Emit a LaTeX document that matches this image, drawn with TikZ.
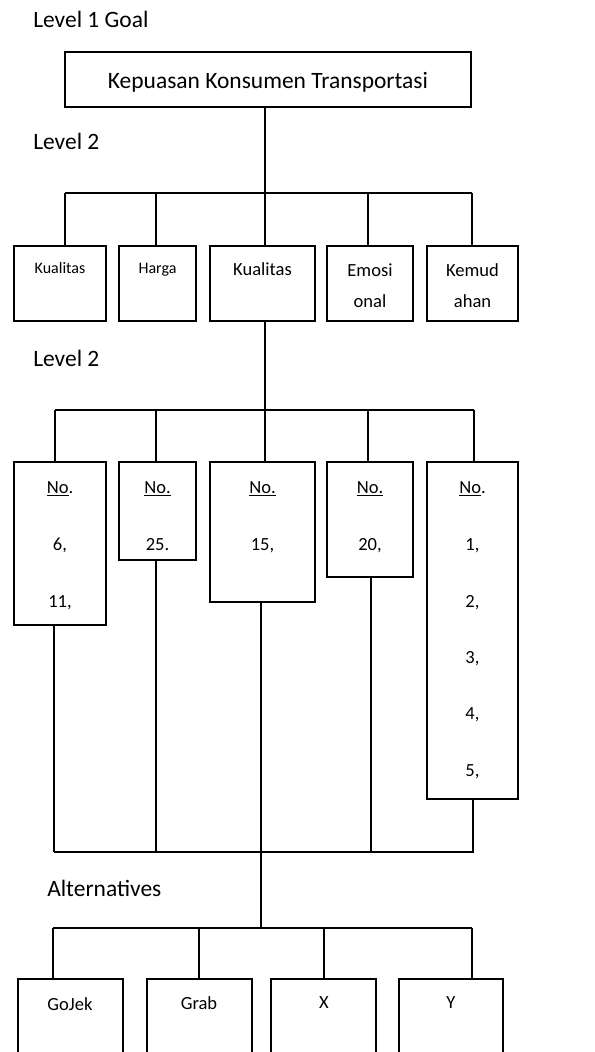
\documentclass[tikz,border=0pt]{standalone}
\usepackage{fontspec}
\setmainfont{Carlito}
\usetikzlibrary{fit}
\begin{document}
\begin{tikzpicture}[x=0.75pt,y=-0.75pt,
  box/.style={draw, line width=1.4pt, inner sep=0pt},
  conn/.style={line width=1.3pt},
  big/.style={font=\fontsize{17.6}{20}\selectfont, inner sep=0pt, anchor=base},
  mid/.style={font=\fontsize{13.9}{16}\selectfont, inner sep=0pt, anchor=base},
  sml/.style={font=\fontsize{12}{14}\selectfont, inner sep=0pt, anchor=base}]
\useasboundingbox (0,0) rectangle (594,1052);

% ---- level labels
\node[big, anchor=base west] (lv1) at (33,28) {Level 1 Goal};
\node[big, anchor=base west] (lv2) at (33,150) {Level 2};
\node[big, anchor=base west] (lv3) at (33,366) {Level 2};
\node[big, anchor=base west] (alt) at (47,896) {Alternatives};

% ---- goal
\node[box, fit={(65,52) (471,107)}] (goal) {};
\node[big] (goalt) at (268,89) {Kepuasan Konsumen Transportasi};

% ---- level 2 boxes
\node[box, fit={(14,246) (106,321)}] (a1) {};
\node[box, fit={(119,246) (196,321)}] (a2) {};
\node[box, fit={(210,246) (315,321)}] (a3) {};
\node[box, fit={(327,246) (413,321)}] (a4) {};
\node[box, fit={(427,246) (518,321)}] (a5) {};
\node[sml] (a1t) at (60,273) {Kualitas};
\node[sml] (a2t) at (157.5,273) {Harga};
\node[mid] (a3t) at (262.5,275) {Kualitas};
\node[mid] (a4t) at (370,276) {Emosi};
\node[mid] (a4u) at (370,307) {onal};
\node[mid] (a5t) at (472.5,276) {Kemud};
\node[mid] (a5u) at (472.5,307) {ahan};

% ---- level 3 boxes
\node[box, fit={(14,462) (106,625)}] (c1) {};
\node[box, fit={(119,462) (196,560)}] (c2) {};
\node[box, fit={(210,462) (315,602)}] (c3) {};
\node[box, fit={(327,462) (413,577)}] (c4) {};
\node[box, fit={(427,462) (518,799)}] (c5) {};
\node[mid] (c1n) at (60,493) {\underline{No}.};
\node[mid] (c1a) at (60,550) {6,};
\node[mid] (c1b) at (60,607) {11,};
\node[mid] (c2n) at (157.5,493) {\underline{No.}};
\node[mid] (c2a) at (157.5,550) {25.};
\node[mid] (c3n) at (262.5,493) {\underline{No.}};
\node[mid] (c3a) at (262.5,550) {15,};
\node[mid] (c4n) at (370,493) {\underline{No.}};
\node[mid] (c4a) at (370,550) {20,};
\node[mid] (c5n) at (472.5,493) {\underline{No}.};
\node[mid] (c5a) at (472.5,550) {1,};
\node[mid] (c5b) at (472.5,607) {2,};
\node[mid] (c5c) at (472.5,663) {3,};
\node[mid] (c5d) at (472.5,719) {4,};
\node[mid] (c5e) at (472.5,776) {5,};

% ---- alternatives (open at the bottom, cut by the page edge)
\node[box, fit={(18,979) (123,1100)}] (g1) {};
\node[box, fit={(147,979) (252,1100)}] (g2) {};
\node[box, fit={(271,979) (376,1100)}] (g3) {};
\node[box, fit={(399,979) (503,1100)}] (g4) {};
\node[mid] (g1t) at (70,1010) {GoJek};
\node[mid] (g2t) at (199,1009) {Grab};
\node[mid] (g3t) at (324,1008) {X};
\node[mid] (g4t) at (451,1008) {Y};

% ---- connectors: goal -> level 2
\coordinate (p1) at (65,193);
\coordinate (p2) at (156,193);
\coordinate (p3) at (265,193);
\coordinate (p4) at (368,193);
\coordinate (p5) at (472,193);
\draw[conn] (goal.south -| p3) -- (p3);
\draw[conn] (p1) -- (p5);
\foreach \i in {1,...,5} {\draw[conn] (p\i) -- (p\i |- a\i.north);}

% ---- level 2 -> level 3
\coordinate (q1) at (55,410);
\coordinate (q2) at (156,410);
\coordinate (q3) at (265,410);
\coordinate (q4) at (368,410);
\coordinate (q5) at (474,410);
\draw[conn] (a3.south -| q3) -- (q3);
\draw[conn] (q1) -- (q5);
\foreach \i in {1,...,5} {\draw[conn] (q\i) -- (q\i |- c\i.north);}

% ---- level 3 -> bus
\coordinate (r1) at (54,852);
\coordinate (r2) at (156,852);
\coordinate (r3) at (261,852);
\coordinate (r4) at (371,852);
\coordinate (r5) at (473,852);
\foreach \i in {1,...,5} {\draw[conn] (c\i.south -| r\i) -- (r\i);}
\draw[conn] (r1) -- ([xshift=0.75pt]r5);

% ---- bus -> alternatives
\coordinate (s1) at (53,928);
\coordinate (s2) at (199,928);
\coordinate (s3) at (324,928);
\coordinate (s4) at (472,928);
\draw[conn] (r3) -- (r3 |- s1);
\draw[conn] (s1) -- (s4);
\foreach \i in {1,...,4} {\draw[conn] (s\i) -- (s\i |- g\i.north);}
\end{tikzpicture}
\end{document}
